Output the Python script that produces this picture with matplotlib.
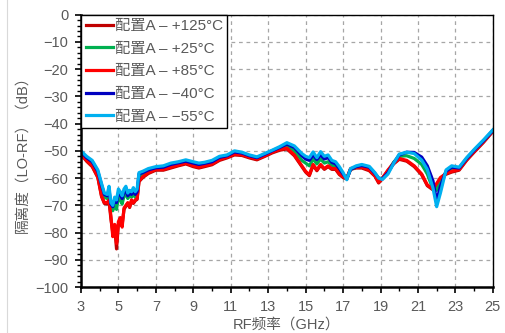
import matplotlib
matplotlib.use("Agg")
import matplotlib.pyplot as plt
from matplotlib.ticker import MultipleLocator
from matplotlib.lines import Line2D

plt.rcParams['font.family'] = ['Liberation Sans', 'Noto Sans CJK SC', 'DejaVu Sans']

freq = [3.0, 3.3, 3.6, 3.9, 4.1, 4.25, 4.4, 4.5, 4.6, 4.7,
        4.8, 4.9, 5.0, 5.1, 5.2, 5.3, 5.4, 5.5, 5.6, 5.7,
        5.8, 5.9, 6.0, 6.1, 6.3, 6.6, 7.0, 7.4, 7.8, 8.2,
        8.6, 9.0, 9.3, 9.6, 10.0, 10.4, 10.8, 11.2, 11.6, 12.0,
        12.4, 12.8, 13.2, 13.6, 14.0, 14.4, 14.8, 15.0, 15.2, 15.4,
        15.6, 15.8, 16.0, 16.2, 16.4, 16.6, 16.8, 17.0, 17.2, 17.4,
        17.7, 18.0, 18.4, 18.7, 18.9, 19.1, 19.4, 19.7, 20.0, 20.4,
        20.8, 21.2, 21.5, 21.8, 22.0, 22.2, 22.5, 22.8, 23.2, 23.6,
        24.0, 24.5, 25.0]

iso_p125 = [-51.3, -53.8, -55.8, -59.8, -66.8, -69.3, -69.5, -68.5, -75, -80,
            -78, -86, -77, -75, -77, -71.5, -70.3, -69.3, -70.8, -68.3,
            -69.3, -68.3, -67.8, -61.3, -59.8, -58.3, -57.1, -57.1, -56.3, -55.5,
            -54.8, -55.8, -56.3, -55.8, -55.1, -53.5, -52.6, -51.5, -51.7, -52.6,
            -53.3, -52.1, -50.8, -49.8, -49.3, -51.8, -55.8, -57.8, -59.1, -55.3,
            -57.3, -55.3, -56.8, -55.8, -56.8, -56.8, -58.7, -59.8, -60.3, -56.8,
            -56.3, -56.3, -57.3, -59.3, -61.8, -60.3, -57.3, -54.8, -53.1, -53.8,
            -55.8, -58.8, -62.8, -64.3, -62.3, -60.1, -58.6, -57.8, -57.1, -53.5,
            -50.5, -46.9, -42.9]

iso_p25 = [-50.5, -53, -54.8, -58.5, -64, -67, -67.5, -66, -71, -72,
           -70, -71.5, -67, -68, -69.5, -66.5, -66, -67.5, -66.5, -67,
           -66, -67, -66, -59.5, -58.5, -57.5, -56.5, -56.3, -55.3, -54.8,
           -54, -54.8, -55.3, -55, -54.3, -52.7, -52, -50.8, -51, -52,
           -52.7, -51.5, -50.2, -49.2, -48.2, -50, -53.5, -54.5, -55.5, -53,
           -54.8, -53, -54.5, -54, -55.3, -55.8, -57.5, -59, -60, -56.8,
           -56, -55.7, -56.3, -58.6, -60.3, -60, -57.5, -54.2, -52, -51.8,
           -52.8, -55, -58.5, -64, -64.5, -60.5, -58, -56.8, -56.5, -53,
           -50, -46.5, -42.6]

iso_p85 = [-51, -53.5, -55.5, -59.5, -66.5, -69, -69, -68, -74, -81.5,
           -77, -84, -76, -74.5, -78, -71, -70, -69, -70.5, -68,
           -69, -68, -67.5, -61, -59.5, -58, -56.8, -56.8, -56, -55.2,
           -54.5, -55.5, -56, -55.5, -54.8, -53.2, -52.3, -51.2, -51.4, -52.3,
           -53, -51.8, -50.5, -49.5, -49, -51.5, -55.5, -57.5, -58.8, -55,
           -57, -55, -56.5, -55.5, -56.5, -56.5, -58.4, -59.5, -60, -56.5,
           -56, -56, -57, -59, -61.5, -60, -57, -54.5, -52.8, -53.5,
           -55.5, -58.5, -62.5, -64, -62, -59.8, -58.3, -57.5, -56.8, -53.2,
           -50.2, -46.6, -42.7]

iso_m40 = [-50.3, -52.5, -54, -57.5, -62.5, -66, -66.5, -64.5, -69.5, -70.5,
           -68, -69, -65.5, -66, -67.5, -65, -64.5, -66.5, -65.5, -66,
           -64.5, -66, -65, -58.5, -58, -57, -56.2, -56, -55, -54.4,
           -53.8, -54.5, -55, -54.6, -54, -52.4, -51.8, -50.4, -50.8, -51.8,
           -52.5, -51.3, -50, -48.8, -47.5, -48.8, -51.8, -53, -53.5, -51.5,
           -53.2, -51.5, -53, -52.5, -54.2, -54.8, -56.5, -58.5, -60.3, -56.8,
           -55.8, -55.4, -56, -58.3, -60, -60.3, -58, -54.5, -51.5, -50.5,
           -50.6, -52.3, -55.5, -61, -68.5, -63, -57.5, -56, -56.3, -52.8,
           -49.8, -46.3, -42.5]

iso_m55 = [-50, -52, -53.5, -57, -62, -65.5, -66, -63, -69, -70,
           -67, -68, -64, -65, -66.5, -64, -63, -65.5, -64.5, -65,
           -63.5, -65, -64, -58, -57.5, -56.5, -55.8, -55.5, -54.5, -54,
           -53.3, -54, -54.5, -54.2, -53.5, -52, -51.5, -50, -50.5, -51.5,
           -52.2, -51, -49.8, -48.5, -47, -48.2, -51, -52, -52.5, -50.4,
           -52.5, -50.3, -52, -51.5, -53.5, -54, -55.8, -58, -60.6, -56.5,
           -55.5, -55, -55.7, -58, -60, -60.5, -58.5, -54.6, -51.2, -50.5,
           -51, -53.4, -56.8, -63.6, -70.5, -65.5, -57, -55.5, -56, -52.5,
           -49.5, -46, -42.3]

x_ticks = [3, 5, 7, 9, 11, 13, 15, 17, 19, 21, 23, 25]

labels = ['配置A – +125°C', '配置A – +25°C', '配置A – +85°C',
          '配置A – −40°C', '配置A – −55°C']
series = [iso_p125, iso_p25, iso_p85, iso_m40, iso_m55]
colors = ['#C00000', '#00B050', '#FF0000', '#0000C0', '#00B0F0']

fig = plt.figure(figsize=(5.06, 3.33), dpi=100)
ax = fig.add_axes([0.160, 0.138, 0.814, 0.818])

for vals, lab, col in zip(series, labels, colors):
    ax.plot(freq, vals, color=col, lw=2.3, label=lab)

ax.set_xlim(3, 25)
ax.set_ylim(-100, 0)
ax.set_xticks(x_ticks)
ax.xaxis.set_minor_locator(MultipleLocator(1))
ax.yaxis.set_major_locator(MultipleLocator(10))
ax.yaxis.set_minor_locator(MultipleLocator(2))
ax.tick_params(which='both', direction='out', colors='black', labelcolor='#595959',
               labelsize=10.5)
ax.tick_params(which='major', length=4, width=1.2, pad=5)
ax.tick_params(which='minor', length=3, width=1)
ax.grid(True, which='major', color='#A6A6A6', linestyle=(0, (3, 3)), lw=0.9)
ax.set_axisbelow(True)
for s in ['left', 'bottom']:
    ax.spines[s].set_linewidth(1.8)
for s in ['top', 'right']:
    ax.spines[s].set_linewidth(1.0)

ax.set_xlabel('RF频率（GHz）', color='#595959', fontsize=10.5, labelpad=3)
ax.set_ylabel('隔离度（LO-RF）（dB）', color='#595959', fontsize=10.5, labelpad=4)

leg = ax.legend(loc='upper left', borderaxespad=0, fancybox=False,
                edgecolor='black', framealpha=1, fontsize=11,
                handlelength=1.8, handletextpad=0.1, labelspacing=0.56,
                borderpad=0.3)
leg.get_frame().set_linewidth(1.0)
for t in leg.get_texts():
    t.set_color('#595959')

fig.add_artist(Line2D([7 / 506, 7 / 506], [0, 1], transform=fig.transFigure,
                      color='#D9D9D9', lw=0.8))

fig.savefig('out.png', dpi=100)
